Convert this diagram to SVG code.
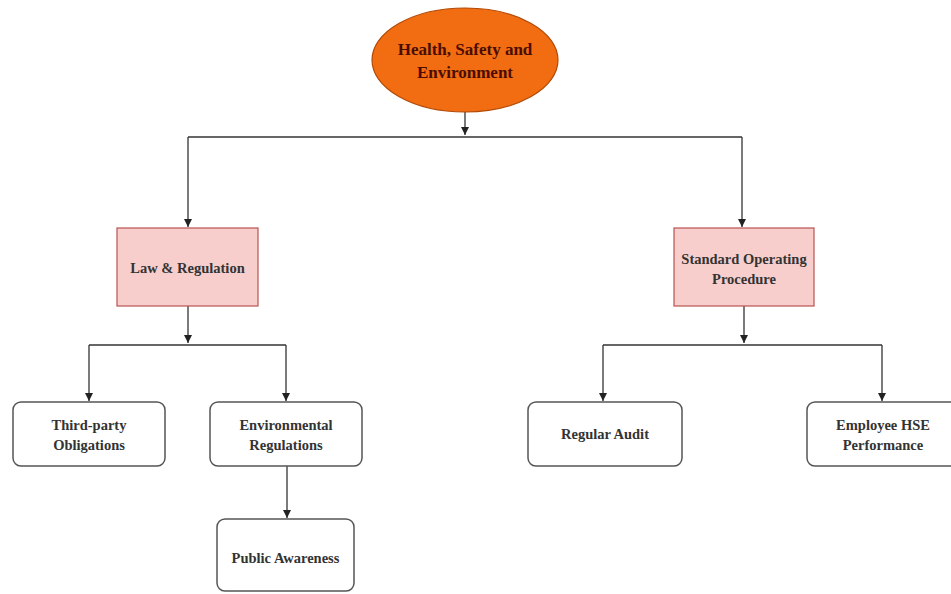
<svg xmlns="http://www.w3.org/2000/svg" width="951" height="594" viewBox="0 0 951 594">
  <style>
    .lbl { font-family: "Liberation Serif", "Times New Roman", serif; font-size: 14.5px; font-weight: bold; fill: #333333; text-anchor: middle; }
    .root-lbl { font-family: "Liberation Serif", "Times New Roman", serif; font-size: 17px; font-weight: bold; fill: #4a0d00; text-anchor: middle; }
    .cat { fill: #f8cecc; stroke: #b85450; stroke-width: 1.2; }
    .leaf { fill: #ffffff; stroke: #555555; stroke-width: 1.5; }
    .edge { fill: none; stroke: #333333; stroke-width: 1.3; }
  </style>
  <defs>
    <marker id="arrow" markerWidth="10" markerHeight="10" refX="9" refY="5" orient="auto" markerUnits="userSpaceOnUse">
      <path d="M1,1 L9,5 L1,9 Z" fill="#222222"/>
    </marker>
  </defs>
  <rect width="951" height="594" fill="#ffffff"/>

  <g id="connectors">
    <path class="edge" d="M465,112 V135" marker-end="url(#arrow)"/>
    <path class="edge" d="M188,137 H742"/>
    <path class="edge" d="M188,137 V227" marker-end="url(#arrow)"/>
    <path class="edge" d="M742,137 V227" marker-end="url(#arrow)"/>

    <path class="edge" d="M188,306 V343" marker-end="url(#arrow)"/>
    <path class="edge" d="M89,345 H286"/>
    <path class="edge" d="M89,345 V401" marker-end="url(#arrow)"/>
    <path class="edge" d="M286,345 V401" marker-end="url(#arrow)"/>
    <path class="edge" d="M287,466 V518" marker-end="url(#arrow)"/>

    <path class="edge" d="M744,306 V343" marker-end="url(#arrow)"/>
    <path class="edge" d="M603,345 H882"/>
    <path class="edge" d="M603,345 V401" marker-end="url(#arrow)"/>
    <path class="edge" d="M882,345 V401" marker-end="url(#arrow)"/>
  </g>

  <g id="hse">
    <ellipse cx="465" cy="60" rx="93" ry="52" fill="#f26c12" stroke="#b24a06" stroke-width="1.2"/>
    <text class="root-lbl" x="465" y="55">Health, Safety and</text>
    <text class="root-lbl" x="465" y="78">Environment</text>
  </g>

  <g id="law-regulation">
    <rect class="cat" x="117" y="228" width="141" height="78"/>
    <text class="lbl" x="187.5" y="273">Law &amp; Regulation</text>
  </g>

  <g id="sop">
    <rect class="cat" x="674" y="228" width="140" height="78"/>
    <text class="lbl" x="744" y="264">Standard Operating</text>
    <text class="lbl" x="744" y="284">Procedure</text>
  </g>

  <g id="third-party">
    <rect class="leaf" x="13" y="402" width="152" height="64" rx="8"/>
    <text class="lbl" x="89" y="430">Third-party</text>
    <text class="lbl" x="89" y="450">Obligations</text>
  </g>

  <g id="env-regulations">
    <rect class="leaf" x="210" y="402" width="152" height="64" rx="8"/>
    <text class="lbl" x="286" y="430">Environmental</text>
    <text class="lbl" x="286" y="450">Regulations</text>
  </g>

  <g id="public-awareness">
    <rect class="leaf" x="217" y="519" width="137" height="72" rx="8"/>
    <text class="lbl" x="285.5" y="563">Public Awareness</text>
  </g>

  <g id="regular-audit">
    <rect class="leaf" x="528" y="402" width="154" height="64" rx="8"/>
    <text class="lbl" x="605" y="439">Regular Audit</text>
  </g>

  <g id="employee-hse">
    <rect class="leaf" x="807" y="402" width="152" height="64" rx="8"/>
    <text class="lbl" x="883" y="430">Employee HSE</text>
    <text class="lbl" x="883" y="450">Performance</text>
  </g>
</svg>
